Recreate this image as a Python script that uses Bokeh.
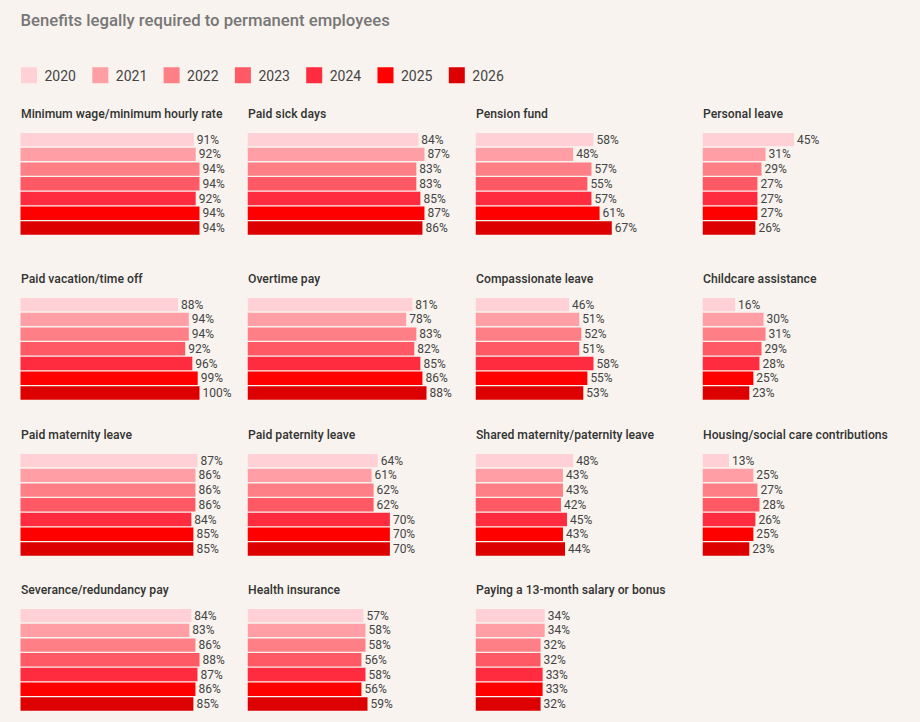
from bokeh.plotting import figure
from bokeh.layouts import column, row
from bokeh.models import Range1d, Label, ColumnDataSource
from bokeh.core.properties import value
from bokeh.embed import file_html
from bokeh.resources import INLINE

# ---------------- data ----------------
years = ["2020", "2021", "2022", "2023", "2024", "2025", "2026"]
colors = ["#ffd0d5", "#ff9ea4", "#ff7f87", "#ff5966", "#ff2b3f", "#ff0000", "#dc0000"]

titles = [
    "Minimum wage/minimum hourly rate", "Paid sick days", "Pension fund", "Personal leave",
    "Paid vacation/time off", "Overtime pay", "Compassionate leave", "Childcare assistance",
    "Paid maternity leave", "Paid paternity leave", "Shared maternity/paternity leave",
    "Housing/social care contributions",
    "Severance/redundancy pay", "Health insurance", "Paying a 13-month salary or bonus",
]

minimum_wage = [91, 92, 94, 94, 92, 94, 94]
paid_sick_days = [84, 87, 83, 83, 85, 87, 86]
pension_fund = [58, 48, 57, 55, 57, 61, 67]
personal_leave = [45, 31, 29, 27, 27, 27, 26]
paid_vacation = [88, 94, 94, 92, 96, 99, 100]
overtime_pay = [81, 78, 83, 82, 85, 86, 88]
compassionate_leave = [46, 51, 52, 51, 58, 55, 53]
childcare = [16, 30, 31, 29, 28, 25, 23]
paid_maternity = [87, 86, 86, 86, 84, 85, 85]
paid_paternity = [64, 61, 62, 62, 70, 70, 70]
shared_parental = [48, 43, 43, 42, 45, 43, 44]
housing_social = [13, 25, 27, 28, 26, 25, 23]
severance = [84, 83, 86, 88, 87, 86, 85]
health_insurance = [57, 58, 58, 56, 58, 56, 59]
thirteenth_month = [34, 34, 32, 32, 33, 33, 32]

series = [
    minimum_wage, paid_sick_days, pension_fund, personal_leave,
    paid_vacation, overtime_pay, compassionate_leave, childcare,
    paid_maternity, paid_paternity, shared_parental, housing_social,
    severance, health_insurance, thirteenth_month,
]

# ---------------- style / layout ----------------
BG = "#f8f3ee"
FONT = "Roboto"
TITLE_FONT = "Roboto Medium"
TOTAL_W, TOTAL_H = 920, 722
HEADER_H = 100
row_heights = [165, 156, 155, 146]
col_widths = [247, 228, 227, 218]
col_offsets = [20, 0, 0, 0]
BAR_TOP = 31.8        # px from panel top to first bar
SLOT = 14.72          # px per bar slot
BAR_PX_MAX = 179      # px for the panel's scale reference
MIN_DOMAIN = 88


def base_fig(w, h):
    p = figure(width=w, height=h, output_backend="svg", toolbar_location=None,
               x_axis_location=None, y_axis_location=None,
               min_border=0, min_border_left=0, min_border_right=0,
               min_border_top=0, min_border_bottom=0)
    p.background_fill_color = BG
    p.border_fill_color = BG
    p.outline_line_color = None
    p.xgrid.visible = False
    p.ygrid.visible = False
    return p


# header
header = base_fig(TOTAL_W, HEADER_H)
header.x_range = Range1d(0, TOTAL_W)
header.y_range = Range1d(HEADER_H, 0)
header.add_layout(Label(x=20, y=HEADER_H - 20, x_units="screen", y_units="screen",
                        text="Benefits legally required to permanent employees",
                        text_font=TITLE_FONT, text_font_size="16.7px",
                        text_color="#777777", text_baseline="middle"))
leg_x = [20 + i * 71.3 for i in range(len(years))]
leg_src = ColumnDataSource(dict(x=[x + 8.5 for x in leg_x], y=[74.7] * len(years),
                                c=colors, t=years, tx=[x + 24 for x in leg_x]))
header.rect(x="x", y="y", width=16, height=16, fill_color="c", line_color=None, source=leg_src)
header.text(x="tx", y="y", text="t", source=leg_src, text_font=value(FONT),
            text_font_size="14px", text_color="#444444", text_baseline="middle")

rows = []
k = 0
for r, h in enumerate(row_heights):
    figs = []
    for c, w in enumerate(col_widths):
        p = base_fig(w, h)
        if k < len(series):
            vals = series[k]
            scale = BAR_PX_MAX / max(MIN_DOMAIN, max(vals))
            off = col_offsets[c]
            p.x_range = Range1d(-off / scale, (w - off) / scale)
            p.y_range = Range1d((h - BAR_TOP) / SLOT - 0.5, -BAR_TOP / SLOT - 0.5)
            src = ColumnDataSource(dict(y=list(range(len(vals))), v=vals, c=colors,
                                        lab=[f"{v}%" for v in vals]))
            p.hbar(y="y", left=0, right="v", height=0.91, fill_color="c",
                   line_color=None, source=src)
            p.text(x="v", y="y", text="lab", source=src, x_offset=3,
                   text_font=value(FONT), text_font_size="12px",
                   text_color="#444444", text_baseline="middle")
            p.add_layout(Label(x=off + 0.5, y=h - 13, x_units="screen", y_units="screen",
                               text=titles[k], text_font=TITLE_FONT,
                               text_font_size="12.2px", text_color="#333333",
                               text_baseline="middle"))
        else:
            p.x_range = Range1d(0, 1)
            p.y_range = Range1d(0, 1)
        figs.append(p)
        k += 1
    rows.append(row(*figs, spacing=0))

layout = column(header, *rows, spacing=0)
layout.styles = {"background-color": BG}

open("out.html", "w").write(file_html(layout, INLINE))
